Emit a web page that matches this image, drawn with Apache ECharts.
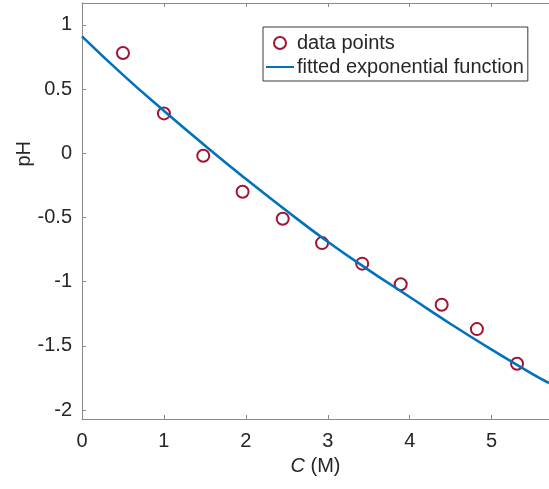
<!DOCTYPE html>
<html>
<head>
<meta charset="utf-8">
<script src="https://cdn.jsdelivr.net/npm/echarts@6/dist/echarts.min.js"></script>
<style>
  html, body { margin: 0; padding: 0; background: #fff; }
  #chart { width: 549px; height: 489px; }
</style>
</head>
<body>
<div id="chart"></div>
<script>
// measured points (C in M, pH)
const pointC = [0.5, 1.0, 1.48, 1.96, 2.45, 2.93, 3.42, 3.89, 4.39, 4.82, 5.31]
const pointPH = [0.78, 0.31, -0.02, -0.30, -0.51, -0.70, -0.86, -1.02, -1.18, -1.37, -1.64]

// fitted curve
const fitC = [0, 0.5, 1, 1.5, 2, 2.5, 3, 3.5, 4, 4.5, 5, 5.5, 5.7]
const fitPH = [0.91, 0.61, 0.33, 0.06, -0.20, -0.45, -0.69, -0.91, -1.12, -1.33, -1.53, -1.72, -1.79]

const xTicks = [0, 1, 2, 3, 4, 5]
const yTicks = [-2, -1.5, -1, -0.5, 0, 0.5, 1]

const font = 'Liberation Sans, Arial, Helvetica, sans-serif'
const axisGrey = '#8a8a8a'
const textColor = '#262626'

const chart = echarts.init(document.getElementById('chart'))

const tickStyle = { inside: true, length: 4, lineStyle: { color: axisGrey } }

const option = {
  animation: false,
  grid: { left: 82, top: 3, width: 475, height: 416 },
  legend: {
    orient: 'vertical',
    left: 263,
    top: 27,
    padding: [6, 4, 4, 2],
    itemGap: 4,
    itemWidth: 28,
    itemHeight: 12,
    backgroundColor: '#fff',
    borderColor: '#3a3a3a',
    borderWidth: 1,
    borderRadius: 0,
    textStyle: { fontFamily: font, fontSize: 20, lineHeight: 20, color: textColor, padding: [0, 0, 0, -2] },
    data: [
      { name: 'data points' },
      { name: 'fitted exponential function', itemStyle: { opacity: 0 } }
    ]
  },
  xAxis: [{
    type: 'value',
    min: 0,
    max: 5.7,
    axisLine: { onZero: false, lineStyle: { color: axisGrey, width: 1 } },
    axisTick: Object.assign({ customValues: xTicks }, tickStyle),
    axisLabel: { customValues: xTicks, fontFamily: font, fontSize: 20, color: textColor, margin: 12 },
    splitLine: { show: false },
    name: '{i|C} (M)',
    nameLocation: 'middle',
    nameGap: 37,
    nameTextStyle: {
      fontFamily: font, fontSize: 20, color: textColor,
      rich: { i: { fontFamily: font, fontSize: 20, fontStyle: 'italic', color: textColor } }
    }
  }, {
    type: 'value',
    position: 'top',
    min: 0,
    max: 5.7,
    axisLine: { show: true, onZero: false, lineStyle: { color: axisGrey, width: 1 } },
    axisTick: Object.assign({ customValues: xTicks }, tickStyle),
    axisLabel: { show: false },
    splitLine: { show: false }
  }],
  yAxis: [{
    type: 'value',
    min: -2.07,
    max: 1.17,
    axisLine: { show: true, onZero: false, lineStyle: { color: axisGrey, width: 1 } },
    axisTick: Object.assign({ customValues: yTicks }, tickStyle),
    axisLabel: {
      customValues: yTicks,
      fontFamily: font, fontSize: 20, color: textColor, margin: 10,
      formatter: v => String(v)
    },
    splitLine: { show: false }
  }, {
    type: 'value',
    position: 'right',
    min: -2.07,
    max: 1.17,
    axisLine: { show: true, onZero: false, lineStyle: { color: axisGrey, width: 1 } },
    axisTick: { show: false },
    axisLabel: { show: false },
    splitLine: { show: false }
  }],
  graphic: [{
    type: 'text',
    left: 14,
    top: 141,
    rotation: Math.PI / 2,
    style: { text: 'pH', font: '20px ' + font, fill: textColor }
  }],
  series: [{
    name: 'data points',
    type: 'scatter',
    symbol: 'emptyCircle',
    symbolSize: 12,
    itemStyle: { color: '#A2142F', borderColor: '#A2142F', borderWidth: 2, opacity: 1 },
    data: pointC.map((c, i) => [c, pointPH[i]]),
    z: 2
  }, {
    name: 'fitted exponential function',
    type: 'line',
    smooth: true,
    showSymbol: false,
    symbol: 'none',
    lineStyle: { color: '#0072BD', width: 2.6 },
    itemStyle: { color: '#0072BD' },
    data: fitC.map((c, i) => [c, fitPH[i]]),
    z: 3
  }]
}

chart.setOption(option)
</script>
</body>
</html>
